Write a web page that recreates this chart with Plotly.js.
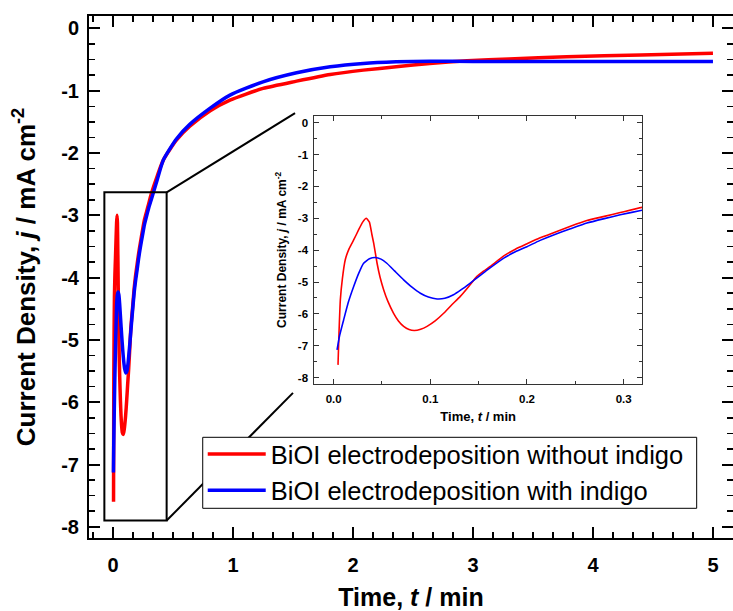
<!DOCTYPE html>
<html>
<head>
<meta charset="utf-8">
<script src="https://cdn.plot.ly/plotly-3.0.1.min.js"></script>
<style>html,body{margin:0;padding:0;background:#fff;}#chart{width:733px;height:611px;}</style>
</head>
<body>
<div id="chart"></div>
<script>
// ---- data ----
var seriesNames = ["BiOI electrodeposition without indigo", "BiOI electrodeposition with indigo"];

var timeRed = [0.0045,0.0055,0.0069,0.009,0.012,0.016,0.0207,0.026,0.030,0.0338,0.037,0.0395,0.0414,0.0449,0.048,0.0517,0.056,0.062,0.067,0.0724,0.078,0.0835,0.09,0.0966,0.105,0.1138,0.122,0.131,0.14,0.148,0.155,0.162,0.176,0.188,0.2,0.213,0.2275,0.245,0.262,0.28,0.2965,0.32,0.37,0.42,0.53,0.64,0.81,0.975,1.25,1.53,1.81,2.086,2.36,2.64,2.95,3.3,3.78,4.4,5.0];
var jRed    = [-7.6,-6.6,-5.56,-4.9,-4.30,-3.95,-3.68,-3.35,-3.12,-3.0,-3.12,-3.5,-3.78,-4.41,-4.85,-5.24,-5.60,-5.98,-6.22,-6.39,-6.49,-6.52,-6.48,-6.39,-6.22,-5.98,-5.72,-5.45,-5.13,-4.83,-4.66,-4.51,-4.18,-3.97,-3.80,-3.62,-3.45,-3.25,-3.07,-2.94,-2.82,-2.65,-2.36,-2.11,-1.79,-1.57,-1.32,-1.15,-0.963,-0.846,-0.739,-0.669,-0.616,-0.562,-0.52,-0.49,-0.455,-0.425,-0.40];

var timeBlue = [0.0035,0.006,0.0103,0.015,0.0207,0.026,0.031,0.037,0.0431,0.049,0.055,0.063,0.0724,0.081,0.0897,0.098,0.107,0.115,0.124,0.132,0.141,0.15,0.159,0.176,0.188,0.2,0.213,0.2275,0.245,0.262,0.28,0.2965,0.32,0.37,0.42,0.53,0.64,0.81,0.975,1.25,1.53,1.81,2.086,2.36,2.64,3.0,3.5,4.0,4.5,5.0];
var jBlue    = [-7.13,-6.7,-6.19,-5.65,-5.14,-4.72,-4.41,-4.27,-4.23,-4.28,-4.41,-4.65,-4.93,-5.16,-5.35,-5.47,-5.53,-5.51,-5.40,-5.24,-5.04,-4.83,-4.62,-4.25,-4.05,-3.89,-3.70,-3.52,-3.33,-3.15,-3.01,-2.89,-2.74,-2.42,-2.11,-1.77,-1.54,-1.28,-1.07,-0.857,-0.712,-0.616,-0.562,-0.536,-0.525,-0.53,-0.53,-0.53,-0.53,-0.53];

var mainXTicks = [0,1,2,3,4,5];
var mainXLabels = ["0","1","2","3","4","5"];
var mainYTicks = [0,-1,-2,-3,-4,-5,-6,-7,-8];
var mainYLabels = ["0","-1","-2","-3","-4","-5","-6","-7","-8"];
var insetXTicks = [0,0.1,0.2,0.3];
var insetXLabels = ["0.0","0.1","0.2","0.3"];
var insetYTicks = [0,-1,-2,-3,-4,-5,-6,-7,-8];
var insetYLabels = ["0","-1","-2","-3","-4","-5","-6","-7","-8"];

// zoom box drawn on the main plot (data units)
var zoomBoxX = [-0.072, 0.447];
var zoomBoxY = [-7.90, -2.63];
var connectorTop = [1.517, -1.36];
var connectorBottom = [1.50, -5.85];

// ---- styling ----
var FONT = "Liberation Sans, Arial, Helvetica, sans-serif";
var RED = "#ff0000", BLUE = "#0000ff";

var traces = [
  {x: timeRed, y: jRed, type: "scatter", mode: "lines", name: seriesNames[0],
   line: {color: RED, width: 3.5, shape: "spline", smoothing: 0.6}, xaxis: "x", yaxis: "y"},
  {x: timeBlue, y: jBlue, type: "scatter", mode: "lines", name: seriesNames[1],
   line: {color: BLUE, width: 3.5, shape: "spline", smoothing: 0.6}, xaxis: "x", yaxis: "y"},
  {x: timeRed, y: jRed, type: "scatter", mode: "lines", showlegend: false,
   line: {color: RED, width: 1.6, shape: "spline", smoothing: 0.4}, xaxis: "x2", yaxis: "y2"},
  {x: timeBlue, y: jBlue, type: "scatter", mode: "lines", showlegend: false,
   line: {color: BLUE, width: 1.6, shape: "spline", smoothing: 0.4}, xaxis: "x2", yaxis: "y2"}
];

var layout = {
  width: 733, height: 611,
  margin: {l: 89, r: 0, t: 16, b: 73},
  paper_bgcolor: "#fff", plot_bgcolor: "#fff",
  font: {family: FONT, color: "#000"},
  showlegend: true,
  legend: {
    x: 0.1766, y: 0.205, xanchor: "left", yanchor: "top",
    bgcolor: "rgba(0,0,0,0)", borderwidth: 0,
    font: {family: FONT, size: 25.5, color: "#000"},
    itemwidth: 58, tracegroupgap: 0
  },
  xaxis: {
    range: [-0.2, 5.167], showgrid: false, zeroline: false,
    showline: true, linecolor: "#000", linewidth: 2, mirror: "ticks",
    tickmode: "array", tickvals: mainXTicks, ticktext: mainXLabels,
    ticks: "inside", ticklen: 11, tickwidth: 2, tickcolor: "#000",
    ticklabelstandoff: 8,
    tickfont: {family: FONT, size: 20, weight: "bold", color: "#000"},
    minor: {tickmode: "linear", tick0: 0, dtick: 1/6, ticks: "inside", ticklen: 6, tickwidth: 1.5, tickcolor: "#000", showgrid: false},
    title: {text: "Time, <i>t</i> / min", font: {family: FONT, size: 25, weight: "bold", color: "#000"}, standoff: 19}
  },
  yaxis: {
    range: [-8.18, 0.2], showgrid: false, zeroline: false,
    showline: true, linecolor: "#000", linewidth: 2, mirror: "ticks",
    tickmode: "array", tickvals: mainYTicks, ticktext: mainYLabels,
    ticks: "inside", ticklen: 11, tickwidth: 2, tickcolor: "#000",
    ticklabelstandoff: 4,
    tickfont: {family: FONT, size: 20, weight: "bold", color: "#000"},
    minor: {tickmode: "linear", tick0: 0, dtick: 0.25, ticks: "inside", ticklen: 6, tickwidth: 1.5, tickcolor: "#000", showgrid: false},
    title: {text: "Current Density, <i>j</i> / mA cm<sup>-2</sup>", font: {family: FONT, size: 26, weight: "bold", color: "#000"}, standoff: 18}
  },
  xaxis2: {
    domain: [0.3499, 0.8587], anchor: "y2",
    range: [-0.02, 0.319], showgrid: false, zeroline: false,
    showline: true, linecolor: "#333", linewidth: 1, mirror: "ticks",
    tickmode: "array", tickvals: insetXTicks, ticktext: insetXLabels,
    ticks: "inside", ticklen: 5, tickwidth: 1, tickcolor: "#333",
    ticklabelstandoff: 4,
    tickfont: {family: FONT, size: 11.5, weight: "bold", color: "#000"},
    minor: {tickmode: "linear", tick0: 0, dtick: 0.05, ticks: "inside", ticklen: 3, tickwidth: 1, tickcolor: "#333", showgrid: false},
    title: {text: "Time, <i>t</i> / min", font: {family: FONT, size: 13, weight: "bold", color: "#000"}, standoff: 8}
  },
  yaxis2: {
    domain: [0.295, 0.809], anchor: "x2",
    range: [-8.2, 0.22], showgrid: false, zeroline: false,
    showline: true, linecolor: "#333", linewidth: 1, mirror: "ticks",
    tickmode: "array", tickvals: insetYTicks, ticktext: insetYLabels,
    ticks: "inside", ticklen: 5, tickwidth: 1, tickcolor: "#333",
    ticklabelstandoff: 3,
    tickfont: {family: FONT, size: 11.5, weight: "bold", color: "#000"},
    minor: {tickmode: "linear", tick0: 0, dtick: 0.5, ticks: "inside", ticklen: 3, tickwidth: 1, tickcolor: "#333", showgrid: false},
    title: {text: "Current Density, <i>j</i> / mA cm<sup>-2</sup>", font: {family: FONT, size: 12, weight: "bold", color: "#000"}, standoff: 8}
  },
  shapes: [
    {type: "rect", xref: "x", yref: "y", x0: zoomBoxX[0], x1: zoomBoxX[1], y0: zoomBoxY[0], y1: zoomBoxY[1],
     line: {color: "#000", width: 2}, fillcolor: "rgba(0,0,0,0)"},
    {type: "line", xref: "x", yref: "y", x0: zoomBoxX[1], y0: zoomBoxY[1], x1: connectorTop[0], y1: connectorTop[1],
     line: {color: "#000", width: 2}},
    {type: "line", xref: "x", yref: "y", x0: zoomBoxX[1], y0: zoomBoxY[0], x1: connectorBottom[0], y1: connectorBottom[1],
     line: {color: "#000", width: 2}},
    // legend frame (white, covers connector line like in the reference)
    {type: "rect", xref: "paper", yref: "paper", x0: 0.1766, x1: 0.9436, y0: 0.0569, y1: 0.1929,
     line: {color: "#000", width: 1}, fillcolor: "#fff", layer: "above"}
  ]
};

Plotly.newPlot("chart", traces, layout, {displayModeBar: false, staticPlot: true});
</script>
</body>
</html>
